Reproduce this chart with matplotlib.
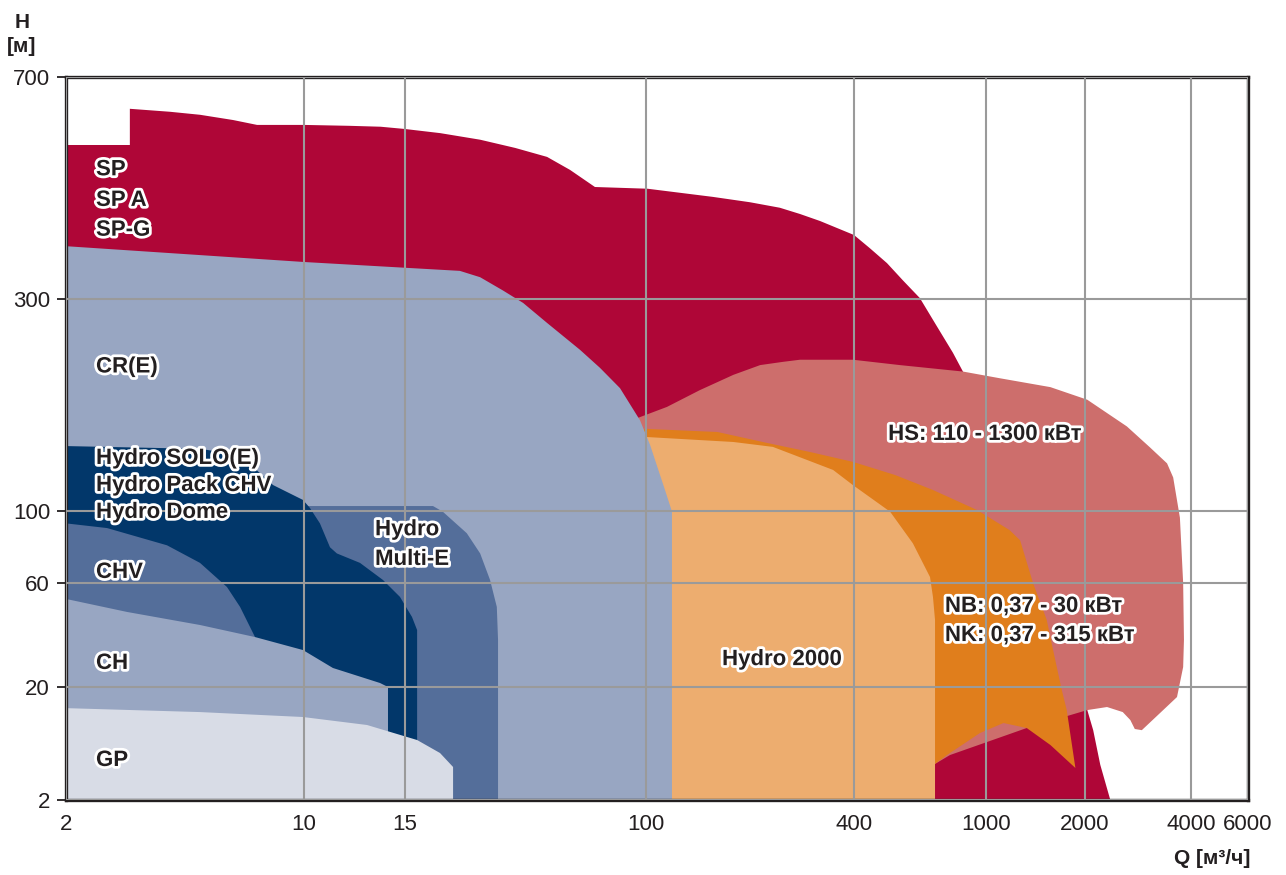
import numpy as np
import matplotlib.pyplot as plt
import matplotlib.patheffects as pe

plt.rcParams['font.family'] = ['Liberation Sans', 'DejaVu Sans']

# axis ticks (the chart uses a stretched log scale between ticks)
Q_TICKS = [2, 10, 15, 100, 400, 1000, 2000, 4000, 6000]
Q_LABELS = ["2", "10", "15", "100", "400", "1000", "2000", "4000", "6000"]
H_TICKS = [2, 20, 60, 100, 300, 700]
H_LABELS = ["2", "20", "60", "100", "300", "700"]

# where each tick sits along the axis (relative units)
Q_TICK_POS = [0, 238, 339, 580, 788, 920, 1019, 1125, 1182]
H_TICK_POS = [0, 113, 217, 289, 501, 723]

# pump ranges, Q [m3/h] / H [m]
SP_Q = [2, 2, 3.08, 3.08, 4.04, 4.95, 6.19, 7.28, 10, 12.0, 13.6, 15, 19.8, 27.1, 35.7,
        45.9, 55.0, 66.9, 101, 156, 200, 244, 279, 319, 400, 447, 503, 562, 632, 712,
        795, 852, 1100, 1680, 2030, 2110, 2210, 2360]
SP_H = [2, 540, 540, 620, 613, 606, 594, 583, 583, 581, 579, 574, 565, 551, 534,
        516, 491, 460, 457, 443, 434, 425, 415, 404, 383, 364, 344, 322, 301, 260,
        227, 206, 137, 29.5, 12.5, 8.3, 4.1, 2]

HS_Q = [88.1, 115, 143, 179, 214, 249, 279, 397, 550, 852, 1100, 1570, 2030, 2630, 3060,
        3420, 3560, 3720, 3800, 3820, 3800, 3650, 3270, 2900, 2770, 2690, 2560, 2310, 2030,
        1330, 779, 702, 143, 81.5, 81.5]
HS_H = [159.5, 171.5, 187, 202.5, 213, 216.6, 219, 219, 213, 206, 199, 190, 178, 155, 139,
        128, 119, 95.4, 60, 32.9, 24.7, 16.3, 11.8, 8.3, 8.5, 10.2, 12.0, 13.3, 12.5,
        8.67, 5.0, 4.17, 2, 2, 144.5]

CR_Q = [2, 2, 10, 15, 23.1, 27.1, 32.4, 38.0, 45.9, 59.5, 69.6, 81.5, 95.4, 102.7, 109.8,
        113.5, 117.3, 118.9, 118.9]
CR_H = [2, 367, 345.5, 338, 334, 326, 310, 294, 265, 230.5, 210, 189, 160, 141, 120.5,
        111.5, 103, 99.5, 2]

NB_Q = [95.4, 101, 161, 224, 298, 397, 532, 692, 940, 1180, 1270, 1390, 1530, 1600, 1700,
        1760, 1870, 1570, 1330, 1130, 959, 763, 702, 143, 95.4]
NB_H = [152, 153, 150.6, 142.3, 135.8, 129, 120.5, 111.5, 100.5, 87.3, 81.2, 60, 40.6,
        29.5, 18.8, 12.5, 3.84, 6.13, 8.67, 9.6, 7.83, 5.0, 4.17, 2, 2]

H2000_Q = [99.2, 179, 233, 348, 397, 514, 602, 678, 692, 702, 702, 99.2]
H2000_H = [146.8, 143, 139.4, 123.7, 114.4, 99.5, 79.5, 62.6, 51.8, 40.6, 2, 2]

MULTI_Q = [10, 10, 18.7, 20.2, 24.4, 27.1, 29.3, 30.9, 31.2, 31.2]
MULTI_H = [2, 102.6, 102.6, 99.5, 85.4, 74, 61.3, 46.6, 32.9, 2]

SOLO_Q = [2, 2, 4.95, 6.49, 8.11, 9.93, 10.24, 10.66, 11.1, 11.41, 12.52, 13.73, 14.7,
          15.85, 16.5, 16.5]
SOLO_H = [2, 140, 138, 133.7, 114.4, 105.9, 101.6, 91.6, 77.3, 74, 69.2, 61.3, 51.8,
          41.9, 36.5, 2]

CHV_Q = [2, 2, 2.64, 3.96, 4.95, 5.94, 6.49, 7.18, 7.18]
CHV_H = [2, 91.6, 88.6, 78.4, 69.2, 57.5, 46.6, 33.9, 2]

CH_Q = [2, 2, 3.02, 4.95, 7.18, 9.93, 11.23, 13.57, 14.01, 14.01]
CH_H = [2, 50.7, 44.2, 38.5, 33.9, 29.55, 24.45, 20.86, 20, 2]

GP_Q = [2, 2, 4.95, 9.93, 12.88, 16.5, 19.76, 21.9, 21.9]
GP_H = [2, 13.0, 12.0, 10.85, 9.22, 6.79, 5.21, 3.92, 2]

LABEL_TEXT = ["SP", "SP A", "SP-G", "CR(E)", "Hydro SOLO(E)", "Hydro Pack CHV",
              "Hydro Dome", "CHV", "CH", "GP", "Hydro", "Multi-E", "Hydro 2000",
              "HS: 110 - 1300 кВт", "NB: 0,37 - 30 кВт", "NK: 0,37 - 315 кВт"]
LABEL_Q = [2.45, 2.45, 2.45, 2.45, 2.45, 2.45, 2.45, 2.45, 2.45, 2.45, 13.3, 13.3, 166,
           507, 752, 752]
LABEL_H = [481, 428, 382, 205, 127.6, 110.9, 95.2, 62.2, 24.2, 4.0, 84.2, 68.2, 25.2,
           144.5, 44.2, 32.5]


def stretched_scale(ticks, pos):
    lt = np.log10(ticks)

    def fwd(v):
        v = np.asarray(v, dtype=float)
        return np.interp(np.log10(np.clip(v, 1e-9, None)), lt, pos)

    def inv(p):
        return 10 ** np.interp(np.asarray(p, dtype=float), pos, lt)

    return fwd, inv


def main():
    dark = "#231F20"
    fig = plt.figure(figsize=(12.86, 8.75), dpi=100)
    ax = fig.add_axes([66 / 1286, 75 / 875, 1182 / 1286, 723 / 875])
    ax.set_xscale("function", functions=stretched_scale(Q_TICKS, Q_TICK_POS))
    ax.set_yscale("function", functions=stretched_scale(H_TICKS, H_TICK_POS))
    ax.set_xlim(2, 6000)
    ax.set_ylim(2, 700)

    # back to front
    ax.fill(SP_Q, SP_H, color="#AF0637", lw=0)
    ax.fill(HS_Q, HS_H, color="#CD6E6C", lw=0)
    ax.fill(NB_Q, NB_H, color="#E07E1C", lw=0)
    ax.fill(H2000_Q, H2000_H, color="#EDAD6F", lw=0)
    ax.fill(CR_Q, CR_H, color="#98A6C2", lw=0)
    ax.fill(MULTI_Q, MULTI_H, color="#546E9A", lw=0)
    ax.fill(SOLO_Q, SOLO_H, color="#02376A", lw=0)
    ax.fill(CHV_Q, CHV_H, color="#546E9A", lw=0)
    ax.fill(CH_Q, CH_H, color="#98A6C2", lw=0)
    ax.fill(GP_Q, GP_H, color="#D8DCE6", lw=0)

    ax.set_xticks(Q_TICKS)
    ax.set_xticklabels(Q_LABELS)
    ax.set_yticks(H_TICKS)
    ax.set_yticklabels(H_LABELS)
    ax.minorticks_off()
    ax.set_axisbelow(False)
    ax.grid(True, color="#9A9A9A", linewidth=1.5)
    ax.tick_params(axis="y", direction="out", length=6.5, width=1.3, pad=5,
                   labelsize=16, colors=dark)
    ax.tick_params(axis="x", length=0, pad=10, labelsize=16, colors=dark)
    for s in ax.spines.values():
        s.set_linewidth(2.4)
        s.set_color(dark)

    halo = [pe.withStroke(linewidth=4, foreground="white")]
    for txt, q, h in zip(LABEL_TEXT, LABEL_Q, LABEL_H):
        ax.text(q, h, txt, fontsize=16, fontweight="bold", color=dark,
                ha="left", va="baseline", path_effects=halo, zorder=5)

    fig.text(22 / 1286, 1 - 22 / 875, "H", fontsize=15, fontweight="bold",
             color=dark, ha="center", va="center")
    fig.text(22 / 1286, 1 - 47 / 875, "[м]", fontsize=15, fontweight="bold",
             color=dark, ha="center", va="center")
    fig.text(1250 / 1286, 1 - 858 / 875, "Q [м³/ч]", fontsize=15, fontweight="bold",
             color=dark, ha="right", va="center")

    fig.savefig("out.png", dpi=100)
    plt.close(fig)


if __name__ == "__main__":
    main()
